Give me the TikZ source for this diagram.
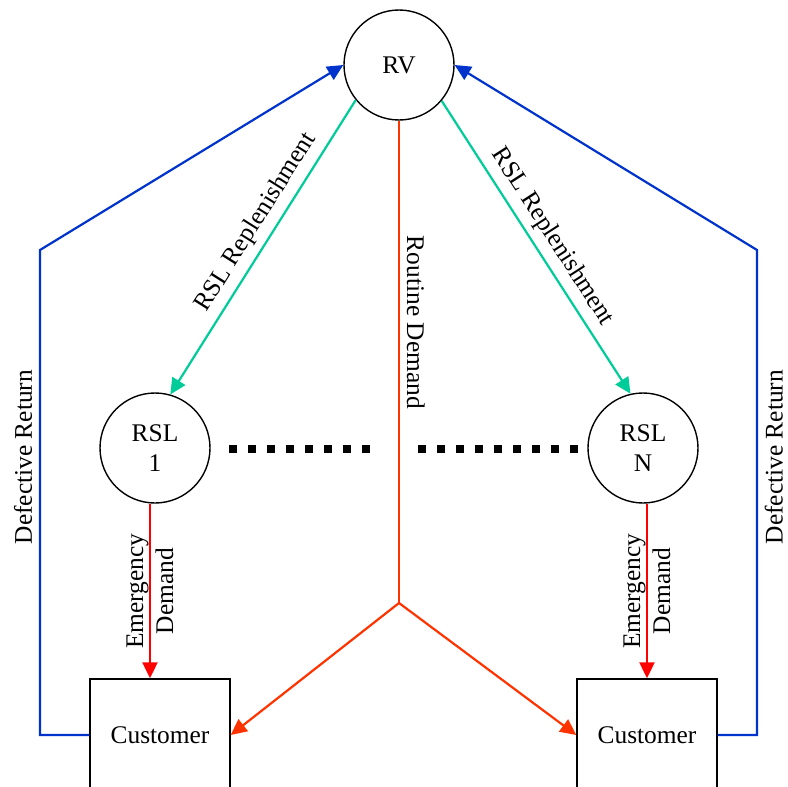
\documentclass[tikz,border=0pt]{standalone}
\usepackage{fontspec}
\setmainfont{Liberation Serif}
\usetikzlibrary{arrows.meta}
\definecolor{retblue}{RGB}{0,51,204}
\definecolor{repgreen}{RGB}{0,204,153}
\definecolor{emred}{RGB}{255,0,0}
\definecolor{rtred}{RGB}{255,51,0}
\begin{document}
\begin{tikzpicture}[x=0.5pt,y=-0.5pt,
  font=\fontsize{12.7}{15}\selectfont,
  circ/.style={draw, circle, line width=0.7pt, minimum size=55pt, inner sep=0pt, align=center},
  custbox/.style={draw, rectangle, line width=0.7pt, minimum width=70pt, minimum height=56pt},
  tip/.style={-{Triangle[length=8pt,width=7.5pt]}},
  ret/.style={draw=retblue, line width=1.1pt, tip},
  rep/.style={draw=repgreen, line width=1.1pt, tip},
  emerg/.style={draw=emred, line width=1.1pt, tip},
  routine/.style={draw=rtred, line width=1.1pt},
  dots/.style={draw=black, line width=4pt, dash pattern=on 4pt off 5.5pt}
]
\useasboundingbox (0,0) rectangle (788,787);

\node[circ] (RV) at (399,65) {RV};
\node[circ] (RSL1) at (155,448) {RSL\\1};
\node[circ] (RSLN) at (643,448) {RSL\\N};
\node[custbox] (C1) at (160,735) {Customer};
\node[custbox] (C2) at (647,735) {Customer};

% replenishment
\draw[rep] (RV.219.8) -- node[sloped, above, pos=0.45] {RSL Replenishment} (RSL1.74);
\draw[rep] (RV.320.2) -- node[sloped, above, pos=0.5] {RSL Replenishment} (RSLN.103.8);

% routine demand
\coordinate (split) at (399,603);
\draw[routine] (RV.south) -- node[pos=0.418, rotate=-90, anchor=south] {Routine Demand} (split);
\draw[routine, tip] (split) -- (C1.east);
\draw[routine, tip] (split) -- (C2.west);

% emergency demand
\draw[emerg] ([xshift=-2.5pt]RSL1.south) -- node[midway, rotate=90, align=center] {Emergency\\Demand} ([xshift=-2.5pt]RSL1.south |- C1.north);
\draw[emerg] ([xshift=2pt]RSLN.south) -- node[midway, rotate=90, align=center] {Emergency\\Demand} ([xshift=2pt]RSLN.south |- C2.north);

% defective returns
\coordinate (l1) at (40,735);
\coordinate (l2) at (40,250);
\coordinate (r1) at (757,735);
\coordinate (r2) at (757,250);
\draw[ret] (C1.west) -- (l1) -- node[pos=0.573, rotate=90, anchor=south] {Defective Return} (l2) -- (RV.west);
\draw[ret] (C2.east) -- (r1) -- node[pos=0.573, rotate=90, anchor=north] {Defective Return} (r2) -- (RV.east);

% dots
\draw[dots] (229,449) -- (370,449);
\draw[dots] (418,449) -- (578,449);
\end{tikzpicture}
\end{document}
